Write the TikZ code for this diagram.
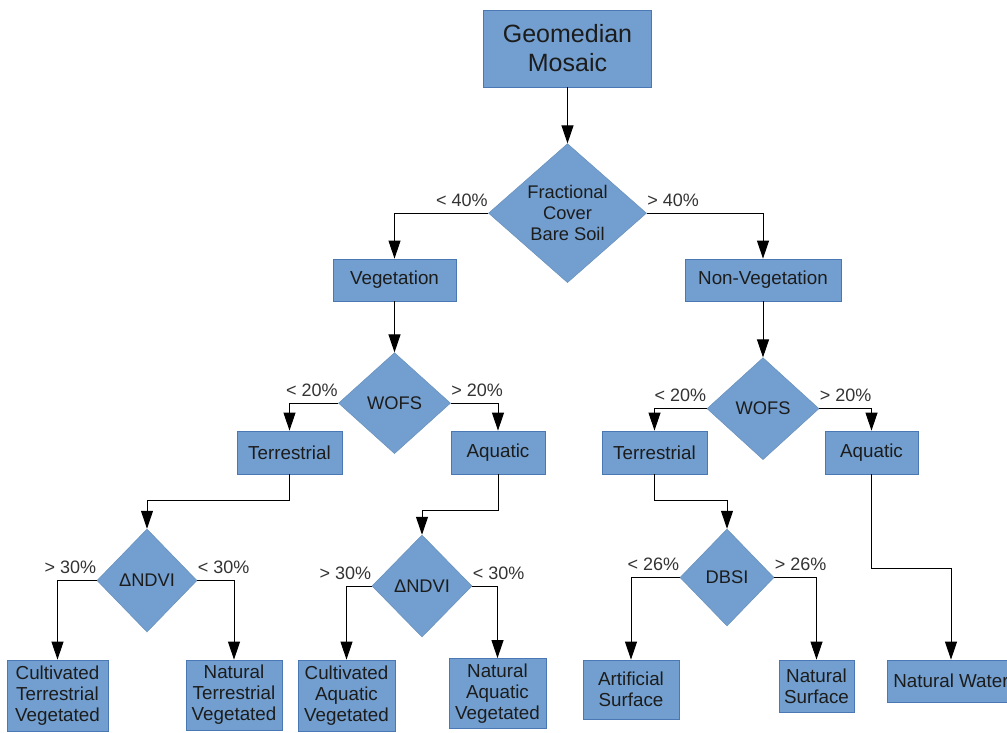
\documentclass[tikz,border=0pt]{standalone}
\usepackage{fontspec}
\setmainfont{Liberation Sans}
\usetikzlibrary{shapes.geometric, arrows.meta, positioning}
\definecolor{boxfill}{HTML}{729FCF}
\definecolor{boxline}{HTML}{4A78B5}
\definecolor{boxtext}{HTML}{1C1C1C}
\definecolor{lbltext}{HTML}{333333}

\begin{document}
\begin{tikzpicture}[
    x=1pt, y=1pt,
    box/.style={
        rectangle, draw=boxline, fill=boxfill, line width=0.8pt,
        align=center, text=boxtext, inner sep=1pt,
        font=\fontsize{18.8}{21}\selectfont
    },
    decision/.style={
        diamond, draw=boxfill!90!black, fill=boxfill, line width=0.5pt,
        align=center, text=boxtext, inner sep=0pt,
        font=\fontsize{18.3}{21}\selectfont
    },
    arrow/.style={line width=1pt, -{Triangle[length=18pt, width=12pt]}, color=black},
    lbl/.style={font=\fontsize{18}{20}\selectfont, text=lbltext, inner xsep=0pt, inner ysep=0pt, yshift=6pt}
]
    \useasboundingbox (0,0) rectangle (1007,-733);
    % Nodes
    \node (geo) [box, minimum width=168pt, minimum height=77pt,
        font=\fontsize{25}{29}\selectfont] at (567.5,-48.5) {Geomedian\\Mosaic};
    \node (frac) [decision, below=56pt of geo, minimum width=158pt, minimum height=139pt]
        {Fractional\\Cover\\Bare Soil};
    \node (veg) [box, minimum width=123pt, minimum height=42pt] at (394.5,-280) {Vegetation};
    \node (nonveg) [box, minimum width=156pt, minimum height=42pt] at (763,-280) {Non-Vegetation};
    \node (wofsL) [decision, below=51pt of veg, minimum width=112pt, minimum height=101pt] {WOFS};
    \node (wofsR) [decision, below=56pt of nonveg, minimum width=112pt, minimum height=102pt] {WOFS};
    \node (terrL) [box, minimum width=105pt, minimum height=43pt] at (289.5,-452.5) {Terrestrial};
    \node (aquaL) [box, minimum width=94pt, minimum height=43pt] at (498,-452.5) {Aquatic};
    \node (terrR) [box, minimum width=105pt, minimum height=43pt] at (654.5,-452.5) {Terrestrial};
    \node (aquaR) [box, minimum width=93pt, minimum height=43pt] at (871.5,-452.5) {Aquatic};
    \node (ndviA) [decision, minimum width=100pt, minimum height=103pt] at (147,-580.5) {ΔNDVI};
    \node (ndviB) [decision, minimum width=100pt, minimum height=102pt] at (422,-586) {ΔNDVI};
    \node (dbsi) [decision, minimum width=94pt, minimum height=97pt] at (727,-577.5) {DBSI};
    \node (cultTerr) [box, minimum width=101pt, minimum height=71pt] at (57.5,-695.5)
        {Cultivated\\Terrestrial\\Vegetated};
    \node (natTerr) [box, minimum width=96pt, minimum height=70pt] at (234,-695)
        {Natural\\Terrestrial\\Vegetated};
    \node (cultAqua) [box, minimum width=97pt, minimum height=71pt] at (346.5,-695.5)
        {Cultivated\\Aquatic\\Vegetated};
    \node (natAqua) [box, minimum width=97pt, minimum height=70pt] at (497.5,-693.5)
        {Natural\\Aquatic\\Vegetated};
    \node (artSurf) [box, minimum width=96pt, minimum height=59pt] at (631,-689.5)
        {Artificial\\Surface};
    \node (natSurf) [box, minimum width=75pt, minimum height=52pt] at (816.5,-686)
        {Natural\\Surface};
    \node (natWater) [box, minimum width=128pt, minimum height=42pt] at (951,-681) {Natural Water};
    % Connections
    \draw [arrow] (geo) -- (frac);
    \draw [arrow] (frac.west) -| (veg.north) node[pos=0, lbl, anchor=south east] {< 40\%};
    \draw [arrow] (frac.east) -| (nonveg.north) node[pos=0, lbl, anchor=south west] {> 40\%};
    \draw [arrow] (veg) -- (wofsL);
    \draw [arrow] (nonveg) -- (wofsR);
    \draw [arrow] (wofsL.west) -| (terrL.north) node[pos=0, lbl, anchor=south east] {< 20\%};
    \draw [arrow] (wofsL.east) -| (aquaL.north) node[pos=0, lbl, anchor=south west] {> 20\%};
    \draw [arrow] (wofsR.west) -| (terrR.north) node[pos=0, lbl, anchor=south east] {< 20\%};
    \draw [arrow] (wofsR.east) -| (aquaR.north) node[pos=0, lbl, anchor=south west] {> 20\%};
    \draw [arrow] (terrL.south) -- ++(0,-26) -| (ndviA.north);
    \draw [arrow] (aquaL.south) -- ++(0,-36) -| (ndviB.north);
    \draw [arrow] (terrR.south) -- ++(0,-26) -| (dbsi.north);
    \draw [arrow] (aquaR.south) -- ++(0,-94) -| (natWater.north);
    \draw [arrow] (ndviA.west) -| (cultTerr.north) node[pos=0, lbl, anchor=south east] {> 30\%};
    \draw [arrow] (ndviA.east) -| (natTerr.north) node[pos=0, lbl, anchor=south west] {< 30\%};
    \draw [arrow] (ndviB.west) -| (cultAqua.north) node[pos=0, lbl, anchor=south east] {> 30\%};
    \draw [arrow] (ndviB.east) -| (natAqua.north) node[pos=0, lbl, anchor=south west] {< 30\%};
    \draw [arrow] (dbsi.west) -| (artSurf.north) node[pos=0, lbl, anchor=south east] {< 26\%};
    \draw [arrow] (dbsi.east) -| (natSurf.north) node[pos=0, lbl, anchor=south west] {> 26\%};
\end{tikzpicture}
\end{document}
